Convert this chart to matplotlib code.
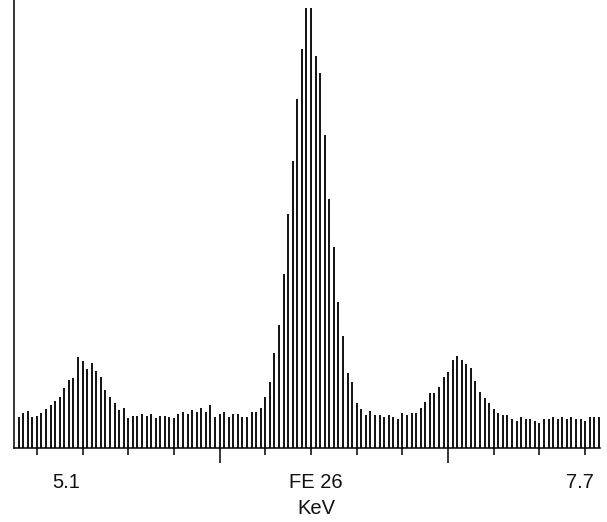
import matplotlib
matplotlib.use("Agg")
import matplotlib.pyplot as plt
import numpy as np

# channel energies (keV), 20 eV per channel
start_kev = 5.12
step_kev = 0.02
counts = [31, 35, 37, 31, 32, 35, 39, 43, 47, 51,
          60, 68, 70, 91, 87, 79, 85, 77, 71, 58,
          51, 45, 38, 40, 30, 32, 32, 34, 32, 34,
          30, 32, 32, 31, 30, 34, 36, 34, 38, 36,
          40, 36, 43, 31, 34, 36, 31, 34, 34, 31,
          31, 36, 36, 40, 51, 66, 95, 123, 174, 234,
          287, 349, 399, 440, 440, 392, 375, 313, 249, 201,
          146, 112, 75, 66, 45, 39, 33, 37, 33, 33,
          31, 33, 31, 29, 35, 33, 35, 35, 40, 46,
          55, 55, 61, 71, 76, 88, 92, 88, 84, 80,
          67, 56, 50, 45, 39, 35, 33, 33, 29, 27,
          31, 29, 29, 27, 25, 29, 29, 31, 29, 31,
          29, 31, 29, 29, 27, 31, 31, 31]
minor_ticks = [5.2, 5.4, 5.6, 5.8, 6.2, 6.4, 6.6, 6.8, 7.2, 7.4, 7.6]
major_ticks = [6.0, 7.0]
labels = ["5.1", "FE 26", "7.7"]
label_x = [66, 316, 580]  # pixel positions

W, H = 607, 522
energy = start_kev + step_kev * np.arange(len(counts))

plt.rcParams['font.family'] = ['Liberation Sans', 'DejaVu Sans']
fig = plt.figure(figsize=(W / 100, H / 100), dpi=100)
ax = fig.add_axes([14 / W, (H - 448) / H, 586 / W, 448 / H])

ax.vlines(energy, 0, counts, color="#111111", lw=1.4)

ax.set_xlim(5.1, 7.665)
ax.set_ylim(0, 448)
ax.spines['top'].set_visible(False)
ax.spines['right'].set_visible(False)
ax.spines['left'].set_linewidth(1.1)
ax.spines['bottom'].set_linewidth(1.1)
ax.set_yticks([])
ax.set_xticks(minor_ticks)
ax.set_xticks(major_ticks, minor=True)
ax.tick_params(axis='x', which='major', length=5, width=1.1, labelbottom=False)
ax.tick_params(axis='x', which='minor', length=11, width=1.1, labelbottom=False)

for lab, px in zip(labels, label_x):
    fig.text(px / W, 1 - 482 / H, lab, ha='center', va='center', fontsize=14.5,
             color="#111111")
fig.text(316 / W, 1 - 509 / H, "KeV", ha='center', va='center', fontsize=14.5,
         color="#111111")

fig.savefig("out.png", dpi=100)
